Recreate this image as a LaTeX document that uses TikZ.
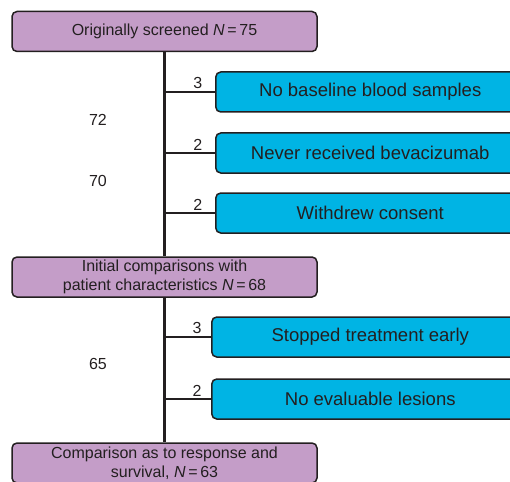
\documentclass[tikz,border=0pt]{standalone}
\usepackage{fontspec}
\setmainfont{Liberation Sans}
\usetikzlibrary{positioning}
\definecolor{boxpurple}{RGB}{196,157,200}
\definecolor{boxblue}{RGB}{0,180,228}
\definecolor{inkgray}{RGB}{35,31,32}

\begin{document}
\begin{tikzpicture}
        [
            x=1pt, y=-1pt,
            stage/.style={rectangle, rounded corners=5pt, draw=inkgray, line width=1.5pt, fill=boxpurple, text=inkgray,
                minimum width=305pt, minimum height=40pt, align=center, inner sep=1pt, font=\fontsize{16}{19}\selectfont},
            excl/.style={rectangle, rounded corners=5pt, draw=inkgray, line width=1.5pt, fill=boxblue, text=inkgray,
                minimum width=#1, minimum height=40pt, anchor=west, font=\fontsize{18.5}{22}\selectfont},
            trunk/.style={draw=inkgray, line width=2.4pt},
            branch/.style={draw=inkgray, line width=2pt},
            cnt/.style={text=inkgray, inner sep=2pt, font=\fontsize{16}{19}\selectfont},
        ]
        \clip (0,0) rectangle (510,481);
        % main flow
        \node[stage] (screened) at (164.5,31.5) {Originally screened \textit{N}\,=\,75};
        \node[stage] (initial) at (164.5,277) {Initial comparisons with\\patient characteristics \textit{N}\,=\,68};
        \node[stage] (final) at (164.5,463) {Comparison as to response and\\survival, \textit{N}\,=\,63};
        \draw[trunk] (screened.south) -- (initial.north);
        \draw[trunk] (initial.south) -- (final.north);
        % exclusions
        \foreach \nm/\x/\y/\w/\n/\txt in {nobase/215/92/309/3/No baseline blood samples,
                                          neverbev/215/153/309/2/Never received bevacizumab,
                                          withdrew/215/213/309/2/Withdrew consent}
        {
            \node[excl=\w pt] (\nm) at (\x,\y) {\txt};
            \draw[branch] (screened.south |- \nm.west) -- node[cnt, above, pos=0.66]{\n} (\nm.west);
        }
        \foreach \nm/\x/\y/\w/\n/\txt in {stopped/211/337/317/3/Stopped treatment early,
                                          nolesion/211/399/317/2/No evaluable lesions}
        {
            \node[excl=\w pt] (\nm) at (\x,\y) {\txt};
            \draw[branch] (initial.south |- \nm.west) -- node[cnt, above, pos=0.7]{\n} (\nm.west);
        }
        % remaining counts
        \node[cnt] (left72) at (98,120) {72};
        \node[cnt] (left70) at (98,181) {70};
        \node[cnt] (left65) at (98,364) {65};
      \end{tikzpicture}
\end{document}
